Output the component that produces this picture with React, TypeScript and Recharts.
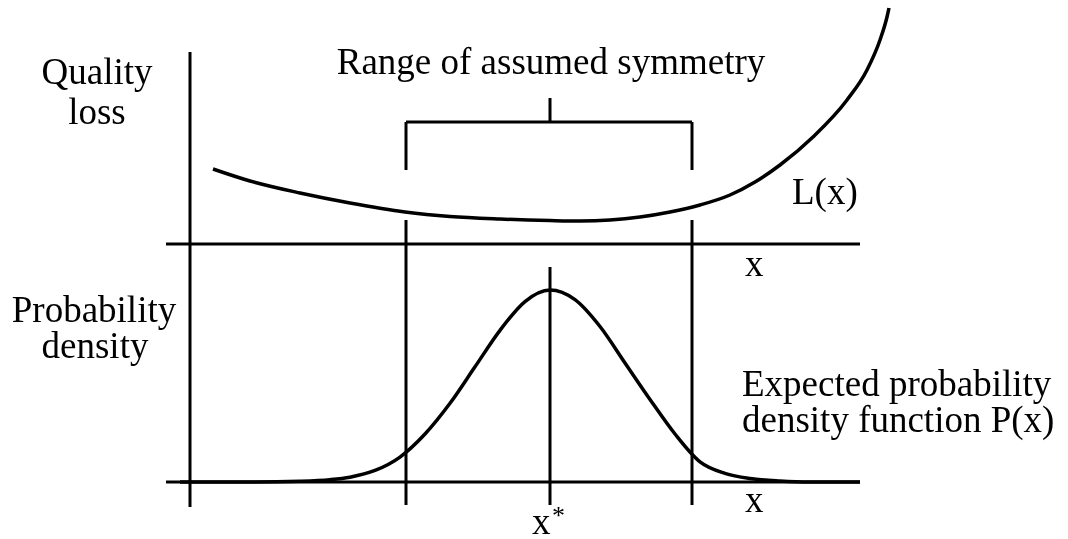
import React from 'react';
import { ComposedChart, Line, XAxis, YAxis, ReferenceLine } from 'recharts';

// x in design units: x* = 0
const lossX = [-3.37, -3.0, -2.5, -2.0, -1.45, -1.0, -0.5, 0, 0.3, 0.6, 0.9, 1.2, 1.5, 1.8, 2.05, 2.3, 2.63, 2.97, 3.17, 3.3, 3.37, 3.39];
const lossY = [7.5, 6.3, 5.1, 4.1, 3.2, 2.75, 2.5, 2.35, 2.3, 2.4, 2.7, 3.2, 3.9, 4.9, 6.2, 7.9, 10.7, 14.4, 17.4, 20.4, 22.7, 23.6];

const pdfX = [-3.7, -3.0, -2.5, -2.2, -2.0, -1.75, -1.5, -1.25, -1.0, -0.75, -0.5, -0.25, 0, 0.25, 0.5, 0.75, 1.0, 1.25, 1.5, 1.75, 2.0, 2.3, 2.6, 3.1];
const pdfY = [0, 0, 0.004, 0.012, 0.025, 0.06, 0.13, 0.25, 0.41, 0.6, 0.79, 0.94, 1.0, 0.95, 0.81, 0.62, 0.43, 0.25, 0.105, 0.045, 0.018, 0.005, 0, 0];

const symLo = -1.44;
const symHi = 1.42;
const xStar = 0;
const axisLeft = -3.6;
const axisStart = -3.84;
const axisEnd = 3.1;

const lossData = lossX.map((x, i) => ({ x, loss: lossY[i] }));
const pdfData = pdfX.map((x, i) => ({ x, p: pdfY[i] }));

const W = 1068;
const H = 539;
const ink = '#000';
const font = 'Liberation Serif';

const seg = (x1: number, y1: number, x2: number, y2: number, axis = 'L') => (
  <ReferenceLine
    yAxisId={axis}
    segment={[{ x: x1, y: y1 }, { x: x2, y: y2 }]}
    stroke={ink}
    strokeWidth={3}
    ifOverflow="visible"
  />
);

// the serif face only shows up at small sizes here, so lay text out at half size
// inside a layer that is scaled 2x. x/y are the baseline point in page pixels.
const T = ({ x, y, anchor = 'start', size = 37, children }: { x: number; y: number; anchor?: string; size?: number; children: React.ReactNode }) => {
  const s = size / 2;
  const top = y / 2 - 0.8375 * s;
  const mid = anchor === 'middle';
  return (
    <div
      style={{
        position: 'absolute',
        top,
        left: mid ? x / 2 - 200 : x / 2,
        width: mid ? 400 : undefined,
        textAlign: mid ? 'center' : 'left',
        fontFamily: font,
        fontSize: s,
        lineHeight: `${s}px`,
        whiteSpace: 'nowrap',
        color: ink,
      }}
    >
      {children}
    </div>
  );
};

const App: React.FC = () => {
  return (
    <div style={{ position: 'absolute', left: 0, top: 0, width: W, height: H, background: '#fff', overflow: 'hidden' }}>
      <ComposedChart width={W} height={H} margin={{ top: 0, right: 0, bottom: 0, left: 0 }}>
        <XAxis type="number" dataKey="x" domain={[-5.5, 5.18]} hide allowDataOverflow />
        <YAxis yAxisId="L" type="number" domain={[-29.5, 24.4]} hide allowDataOverflow />
        <YAxis yAxisId="P" type="number" domain={[-57 / 192, 482 / 192]} hide allowDataOverflow />

        {/* frame */}
        {seg(axisLeft, 19.2, axisLeft, -26.3)}
        {seg(axisStart, 0, axisEnd, 0)}
        {seg(axisStart, 0, axisEnd, 0, 'P')}
        {seg(symLo, 12.2, symHi, 12.2)}
        {seg(symLo, 12.2, symLo, 7.4)}
        {seg(symHi, 12.2, symHi, 7.4)}
        {seg(xStar, 14.6, xStar, 12.2)}
        {seg(symLo, 2.4, symLo, -26.1)}
        {seg(symHi, 2.4, symHi, -26.1)}
        {seg(xStar, -2.3, xStar, -26.1)}

        <Line
          yAxisId="L"
          data={lossData}
          dataKey="loss"
          type="monotone"
          stroke={ink}
          strokeWidth={3.5}
          dot={false}
          activeDot={false}
          isAnimationActive={false}
        />
        <Line
          yAxisId="P"
          data={pdfData}
          dataKey="p"
          type="monotone"
          stroke={ink}
          strokeWidth={3.5}
          dot={false}
          activeDot={false}
          isAnimationActive={false}
        />
      </ComposedChart>

      <div
        style={{
          position: 'absolute',
          left: 0,
          top: 0,
          width: W / 2,
          height: H / 2,
          transform: 'scale(2)',
          transformOrigin: '0 0',
          pointerEvents: 'none',
        }}
      >
        <T x={551} y={75} anchor="middle">Range of assumed symmetry</T>
        <T x={97} y={84} anchor="middle">Quality</T>
        <T x={97} y={124} anchor="middle">loss</T>
        <T x={94} y={322} anchor="middle">Probability</T>
        <T x={95} y={358} anchor="middle">density</T>
        <T x={792} y={204}>L(x)</T>
        <T x={745} y={277}>x</T>
        <T x={742} y={397}>Expected probability</T>
        <T x={742} y={433}>density function P(x)</T>
        <T x={745} y={513}>x</T>
        <T x={532} y={535}>x</T>
        <T x={552} y={524} size={26}>*</T>
      </div>
    </div>
  );
};

export default App;
